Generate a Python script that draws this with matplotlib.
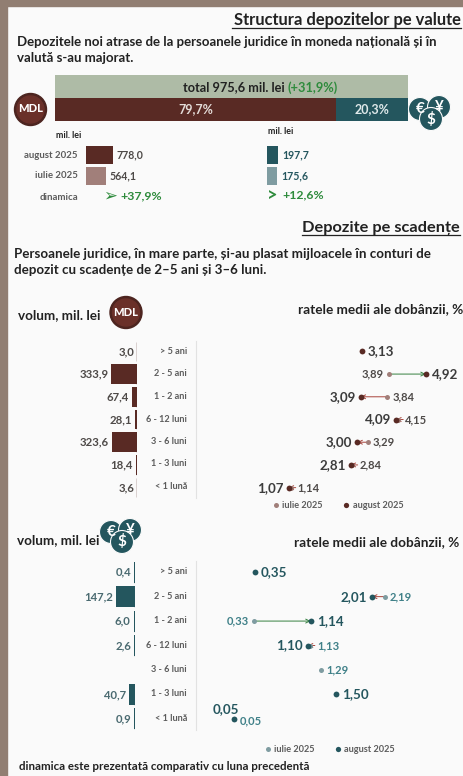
#! /usr/bin/env python3

import numpy as np
import matplotlib
matplotlib.use('Agg')
import matplotlib.pyplot as plt
from matplotlib.patches import Circle, Rectangle

W, H = 464, 776
BG = '#fafafa'
STRIP = '#917e72'
BROWN = '#592a24'
BROWN_L = '#a17f7a'
TEAL = '#24565e'
TEAL_L = '#7f9ca1'
SAGE = '#aebba6'
GREEN = '#2e8b3c'
RED = '#a8433a'
TXT = '#222222'
GREY = '#5c5c5c'

plt.rcParams['font.family'] = ['Lato', 'DejaVu Sans']

# structura pe valute
total_text = 'total 975,6 mil. lei '
total_dyn = '(+31,9%)'
share_mdl = 79.7
share_fx = 20.3
months = ['august 2025', 'iulie 2025']
vol_mdl = [778.0, 564.1]
vol_fx = [197.7, 175.6]
dyn_mdl = '+37,9%'
dyn_fx = '+12,6%'

# depozite pe scadente
terms = ['> 5 ani', '2 - 5 ani', '1 - 2 ani', '6 - 12 luni', '3 - 6 luni', '1 - 3 luni', '< 1 lună']
volume_mdl = [3.0, 333.9, 67.4, 28.1, 323.6, 18.4, 3.6]
rate_jul_mdl = [np.nan, 3.89, 3.84, 4.15, 3.29, 2.84, 1.14]
rate_aug_mdl = [3.13, 4.92, 3.09, 4.09, 3.00, 2.81, 1.07]
volume_fx = [0.4, 147.2, 6.0, 2.6, np.nan, 40.7, 0.9]
rate_jul_fx = [np.nan, 2.19, 0.33, 1.13, 1.29, np.nan, 0.05]
rate_aug_fx = [0.35, 2.01, 1.14, 1.10, np.nan, 1.50, 0.05]


def comma(v, d):
    return f'{v:.{d}f}'.replace('.', ',')


def ax_px(fig, x0, y0, x1, y1):
    # axes placed in pixels, y counted from the top
    ax = fig.add_axes([x0 / W, 1 - y1 / H, (x1 - x0) / W, (y1 - y0) / H])
    ax.axis('off')
    ax.patch.set_alpha(0)
    return ax


def off(ax, x, y, s, dx, **kw):
    ax.annotate(s, (x, y), xytext=(dx * 0.72, 0), textcoords='offset points', va='center', **kw)


def mdl_icon(bg, x, y):
    bg.add_patch(Circle((x, y), 16, color='#4c241f', zorder=3))
    bg.add_patch(Circle((x, y), 13.5, color='#6a3029', zorder=3))
    bg.text(x, y - 0.5, 'MDL', color='white', fontsize=8, fontweight='black', ha='center', va='center', zorder=4)


def fx_icon(bg, x, y):
    for cx, cy, s in [(-10, -1, '€'), (9, -3, '¥'), (1, 9, '$')]:
        bg.add_patch(Circle((x + cx, y + cy), 11.5, facecolor=TEAL, edgecolor=BG, lw=0.8, zorder=3))
        bg.text(x + cx, y + cy, s, color='white', fontsize=11, fontweight='bold', ha='center', va='center', zorder=4)


def volume_panel(fig, vals, x0, x1, vmax, y0, y1, color, lab_color):
    ax = ax_px(fig, x0, y0, x1, y1)
    ax.set_xlim(vmax, 0)
    ax.set_ylim(len(vals) - 0.5, -0.5)
    for i, v in enumerate(vals):
        if np.isnan(v):
            continue
        ax.barh(i, v, height=0.86, color=color)
        ax.vlines(0, i - 0.43, i + 0.43, color=color, lw=1.0)
        off(ax, v, i, comma(v, 1), -3, ha='right', fontsize=8.2, fontweight='bold', color=lab_color)
    return ax


def rate_panel(fig, jul, aug, x0, x1, vmin, vmax, y0, y1, color, color_l, lab_color):
    ax = ax_px(fig, x0, y0, x1, y1)
    ax.set_xlim(vmin, vmax)
    ax.set_ylim(len(jul) - 0.5, -0.5)
    px = (x1 - x0) / (vmax - vmin)
    big = dict(fontsize=9.6, fontweight='bold', color='#3c3c3c' if color == BROWN else TEAL)
    small = dict(fontsize=8, fontweight='bold', color=lab_color)
    for i, (a, b) in enumerate(zip(jul, aug)):
        both = not np.isnan(a) and not np.isnan(b)
        gap = abs(a - b) * px if both else 0
        if both and a != b:
            # pairs that nearly touch still get a visible arrow tail
            tail = a if gap > 7 else b + np.sign(a - b) * 7 / px
            ax.annotate('', xy=(b, i), xytext=(tail, i),
                        arrowprops=dict(arrowstyle='->', lw=0.7, color='#35803f' if b > a else RED,
                                        shrinkA=0, shrinkB=0, mutation_scale=7), zorder=2)
        if not np.isnan(a):
            ax.plot(a, i, 'o', ms=3.6, color=color_l, mec='none', zorder=3)
        if not np.isnan(b):
            ax.plot(b, i, 'o', ms=4.2, color=color, mec='none', zorder=4)
        if a == b:
            ax.annotate(comma(b, 2), (b, i), xytext=(-15, 7.2), textcoords='offset points', ha='left', va='center', **big)
            ax.annotate(comma(a, 2), (a, i), xytext=(4.3, -1.5), textcoords='offset points', ha='left', va='center', **small)
            continue
        push = max(0, 4 - gap) if both else 0
        if not np.isnan(a):
            left = both and a < b
            off(ax, a, i, comma(a, 2), -5 if left else 5 + push, ha='right' if left else 'left', **small)
        if not np.isnan(b):
            left = both and b < a
            off(ax, b, i, comma(b, 2), -5 if left else 6, ha='right' if left else 'left', **big)
    return ax


fig = plt.figure(figsize=(W / 100, H / 100), dpi=100, facecolor=BG)
bg = fig.add_axes([0, 0, 1, 1])
bg.set_xlim(0, W)
bg.set_ylim(H, 0)
bg.axis('off')
bg.add_patch(Rectangle((0, 0), W, 6, color=STRIP))
bg.add_patch(Rectangle((0, 0), 7, H, color=STRIP))
bg.set_zorder(3)
bg.patch.set_alpha(0)

# partea de sus
bg.text(461, 20.5, 'Structura depozitelor pe valute', ha='right', va='center', fontsize=11.9,
        fontweight='bold', color=TXT)
bg.plot([232, 461], [27.5, 27.5], color=TXT, lw=0.9)
bg.text(17, 42, 'Depozitele noi atrase de la persoanele juridice în moneda națională și în',
        fontsize=9.5, fontweight='bold', color=TXT, va='center')
bg.text(17, 57.5, 'valută s-au majorat.', fontsize=9.5, fontweight='bold', color=TXT, va='center')

share = ax_px(fig, 55, 75, 408, 121)
share.set_xlim(0, 100)
share.set_ylim(2, 0)
share.barh(0.5, 100, height=1, color=SAGE)
share.barh(1.5, share_mdl, height=1, color=BROWN)
share.barh(1.5, share_fx, left=share_mdl, height=1, color=TEAL)
share.text(share_mdl / 2, 1.5, comma(share_mdl, 1) + '%', color='#e4dcd8', fontsize=9, fontweight='bold', ha='center', va='center')
share.text(share_mdl + share_fx / 2, 1.5, comma(share_fx, 1) + '%', color='#dfe9ea', fontsize=9, fontweight='bold', ha='center', va='center')
bg.text(288, 87.5, total_text, fontsize=9.2, fontweight='bold', color=TXT, ha='right', va='center', zorder=5)
bg.text(288, 87.5, total_dyn, fontsize=9.2, fontweight='bold', color=GREEN, ha='left', va='center', zorder=5)

mdl_icon(bg, 30.5, 109.5)
fx_icon(bg, 430, 110)

bg.text(56, 135.5, 'mil. lei', fontsize=6.4, fontweight='bold', color=TXT, ha='left', va='center')
bg.text(268, 131, 'mil. lei', fontsize=6.4, fontweight='bold', color=TXT, ha='left', va='center')
for y, m in zip([155.5, 176], months):
    bg.text(78, y, m, fontsize=6.9, color=GREY, fontweight='bold', ha='right', va='center')
bg.text(78, 197, 'dinamica', fontsize=6.9, color=GREY, fontweight='bold', ha='right', va='center')

small1 = ax_px(fig, 86, 145, 130, 186)
small1.set_xlim(0, 44 / 0.0347)
small1.set_ylim(1.5, -0.5)
small1.barh([0, 1], vol_mdl, height=0.88, color=[BROWN, BROWN_L])
small2 = ax_px(fig, 267.5, 145, 310, 186)
small2.set_xlim(0, 42.5 / 0.053)
small2.set_ylim(1.5, -0.5)
small2.barh([0, 1], vol_fx, height=0.88, color=[TEAL, TEAL_L])
for i in [0, 1]:
    off(small1, vol_mdl[i], i, comma(vol_mdl[i], 1), 4, ha='left', fontsize=7.6, fontweight='bold', color='#4e4a48')
    off(small2, vol_fx[i], i, comma(vol_fx[i], 1), 4, ha='left', fontsize=7.6, fontweight='bold', color=TEAL)
bg.text(103, 196, '➢', fontsize=12, color=GREEN, family=['DejaVu Sans'], fontweight='bold', va='center')
bg.text(120, 196, dyn_mdl, fontsize=8.8, fontweight='bold', color=GREEN, va='center')
bg.text(267.5, 196, '>', fontsize=13, fontweight='bold', color=GREEN, va='center')
bg.text(282, 194.5, dyn_fx, fontsize=8.8, fontweight='bold', color=GREEN, va='center')

# depozite pe scadente
bg.text(460, 228, 'Depozite pe scadențe', ha='right', va='center', fontsize=11.8, fontweight='bold', color=TXT)
bg.plot([302, 460], [234.5, 234.5], color=TXT, lw=0.9)
bg.text(14, 254, 'Persoanele juridice, în mare parte, și-au plasat mijloacele în conturi de',
        fontsize=9.6, fontweight='bold', color=TXT, va='center')
bg.text(14, 269.5, 'depozit cu scadențe de 2–5 ani și 3–6 luni.', fontsize=9.6, fontweight='bold', color=TXT, va='center')

bg.text(18, 315, 'volum, mil. lei', fontsize=9.7, fontweight='bold', color=TXT, va='center')
mdl_icon(bg, 126, 312.5)
bg.text(463, 309, 'ratele medii ale dobânzii, %', fontsize=9.8, fontweight='bold', color=TXT, ha='right', va='center')

ROW_MDL = (340, 499)
ROW_FX = (560, 731)

volume_panel(fig, volume_mdl, 60, 137.5, 77.5 / 0.078, ROW_MDL[0], ROW_MDL[1], BROWN, '#4e4a48')
rate_panel(fig, rate_jul_mdl, rate_aug_mdl, 200, 460, (200 - 250.6) / 35.6, (460 - 250.6) / 35.6,
           ROW_MDL[0], ROW_MDL[1], BROWN, BROWN_L, '#4e4a48')
bg.plot([196, 196], [341, 498], color='#e2e2e2', lw=0.8)
for i, t in enumerate(terms):
    bg.text(187, 351.5 + i * 22.5, t, fontsize=6.6, color=GREY, fontweight='bold', ha='right', va='center')

bg.plot(276, 504.5, 'o', ms=3.6, color=BROWN_L, mec='none')
bg.text(282, 505, 'iulie 2025', fontsize=6.6, color=GREY, fontweight='bold', va='center')
bg.plot(346.5, 504.5, 'o', ms=3.8, color=BROWN, mec='none')
bg.text(353, 505, 'august 2025', fontsize=6.6, color=GREY, fontweight='bold', va='center')

bg.text(17, 540, 'volum, mil. lei', fontsize=9.7, fontweight='bold', color=TXT, va='center')
fx_icon(bg, 121, 533)
bg.text(459, 542, 'ratele medii ale dobânzii, %', fontsize=9.8, fontweight='bold', color=TXT, ha='right', va='center')

volume_panel(fig, volume_fx, 60, 134.5, 74.5 / 0.126, ROW_FX[0], ROW_FX[1], TEAL, '#4a6a70')
rate_panel(fig, rate_jul_fx, rate_aug_fx, 200, 460, (200 - 230.3) / 70.5, (460 - 230.3) / 70.5,
           ROW_FX[0], ROW_FX[1], TEAL, TEAL_L, '#3f8088')
bg.plot([196, 196], [561, 730], color='#e2e2e2', lw=0.8)
for i, t in enumerate(terms):
    bg.text(187, 572 + i * 24.4, t, fontsize=6.6, color=GREY, fontweight='bold', ha='right', va='center')

bg.plot(268, 748.5, 'o', ms=3.6, color=TEAL_L, mec='none')
bg.text(274, 749, 'iulie 2025', fontsize=6.6, color=GREY, fontweight='bold', va='center')
bg.plot(338, 748.5, 'o', ms=3.8, color=TEAL, mec='none')
bg.text(344, 749, 'august 2025', fontsize=6.6, color=GREY, fontweight='bold', va='center')
bg.text(19, 766, 'dinamica este prezentată comparativ cu luna precedentă', fontsize=8.3, fontweight='bold', color=TXT, va='center')

fig.savefig('out.png', dpi=100, facecolor=BG)
